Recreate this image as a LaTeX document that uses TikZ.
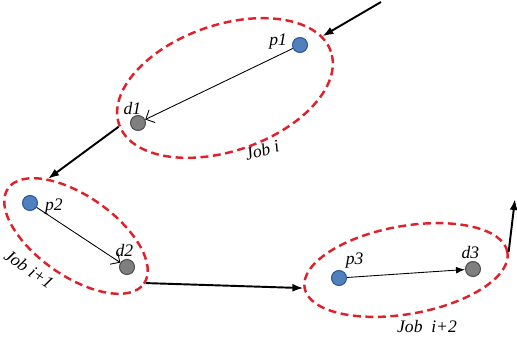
\documentclass[tikz,border=0pt]{standalone}
\usepackage{fontspec}
\setmainfont{Liberation Serif}
\usepackage{tikz}
\usetikzlibrary{positioning,arrows.meta,shapes.geometric}
\definecolor{jobred}{HTML}{E0202A}
\definecolor{pickblue}{HTML}{4F81BD}
\definecolor{pickedge}{HTML}{2F5597}
\definecolor{dropgray}{HTML}{7F7F7F}
\definecolor{dropedge}{HTML}{4D4D4D}

\begin{document}
\begin{tikzpicture}[
    x=0.02cm, y=-0.02cm,
    job/.style={
        ellipse, draw=jobred, line width=1.4pt,
        dash pattern=on 4.5pt off 2.6pt, inner sep=0pt
    },
    pick/.style={
        circle, draw=pickedge, fill=pickblue, line width=0.6pt,
        minimum size=0.3cm, inner sep=0pt
    },
    drop/.style={
        circle, draw=dropedge, fill=dropgray, line width=0.6pt,
        minimum size=0.3cm, inner sep=0pt
    },
    lbl/.style={inner sep=1pt, font=\fontsize{10}{11}\selectfont\itshape},
    link/.style={-{Latex[length=2.2mm,width=1.6mm]}, line width=1.1pt, black},
    leg/.style={line width=0.5pt, black}
]
\useasboundingbox (0,0) rectangle (517,339);

% jobs
\node[job, rotate=19, minimum width=4.48cm, minimum height=2.52cm] (job1) at (225,88) {};
\node[job, rotate=-35, minimum width=3.32cm, minimum height=1.6cm] (job2) at (76,236) {};
\node[job, rotate=10, minimum width=4.12cm, minimum height=1.76cm] (job3) at (406,270) {};

% pickup and delivery points
\node[pick] (p1) at (300,45)  {};
\node[drop] (d1) at (138,123) {};
\node[pick] (p2) at (30,203)  {};
\node[drop] (d2) at (127,267) {};
\node[pick] (p3) at (339,278) {};
\node[drop] (d3) at (473,269) {};

\node[lbl, left=0.06cm of p1, yshift=2pt]         (p1l) {p1};
\node[lbl, above left=0.02cm and -0.22cm of d1]   (d1l) {d1};
\node[lbl, right=0.1cm of p2, yshift=-2pt]        (p2l) {p2};
\node[lbl, above left=0.05cm and -0.28cm of d2]   (d2l) {d2};
\node[lbl, above right=0.04cm and -0.02cm of p3]  (p3l) {p3};
\node[lbl, above left=0.05cm and -0.28cm of d3]   (d3l) {d3};
\node[lbl, rotate=15]  (j1l) at (262,150) {Job i};
\node[lbl, rotate=-35] (j2l) at (29,269)  {Job i+1};
\node[lbl]             (j3l) at (427,326) {Job\ \ i+2};

% legs inside jobs
\draw[leg, -{Straight Barb[length=1.4mm]}] (p1) -- (d1);
\draw[leg, -{Straight Barb[length=1.4mm]}] (p2) -- (d2);
\draw[leg, -{Latex[length=1.8mm]}] (p3) -- (d3);

% route between jobs
\coordinate (in)  at (381,2);
\coordinate (out) at (515,199);
\draw[link] (in) -- (job1.9);
\draw[link] (job1.181) -- (job2.151);
\draw[link] (job2.1) -- (job3.west);
\draw[link] (job3.east) -- (out);
\end{tikzpicture}
\end{document}
